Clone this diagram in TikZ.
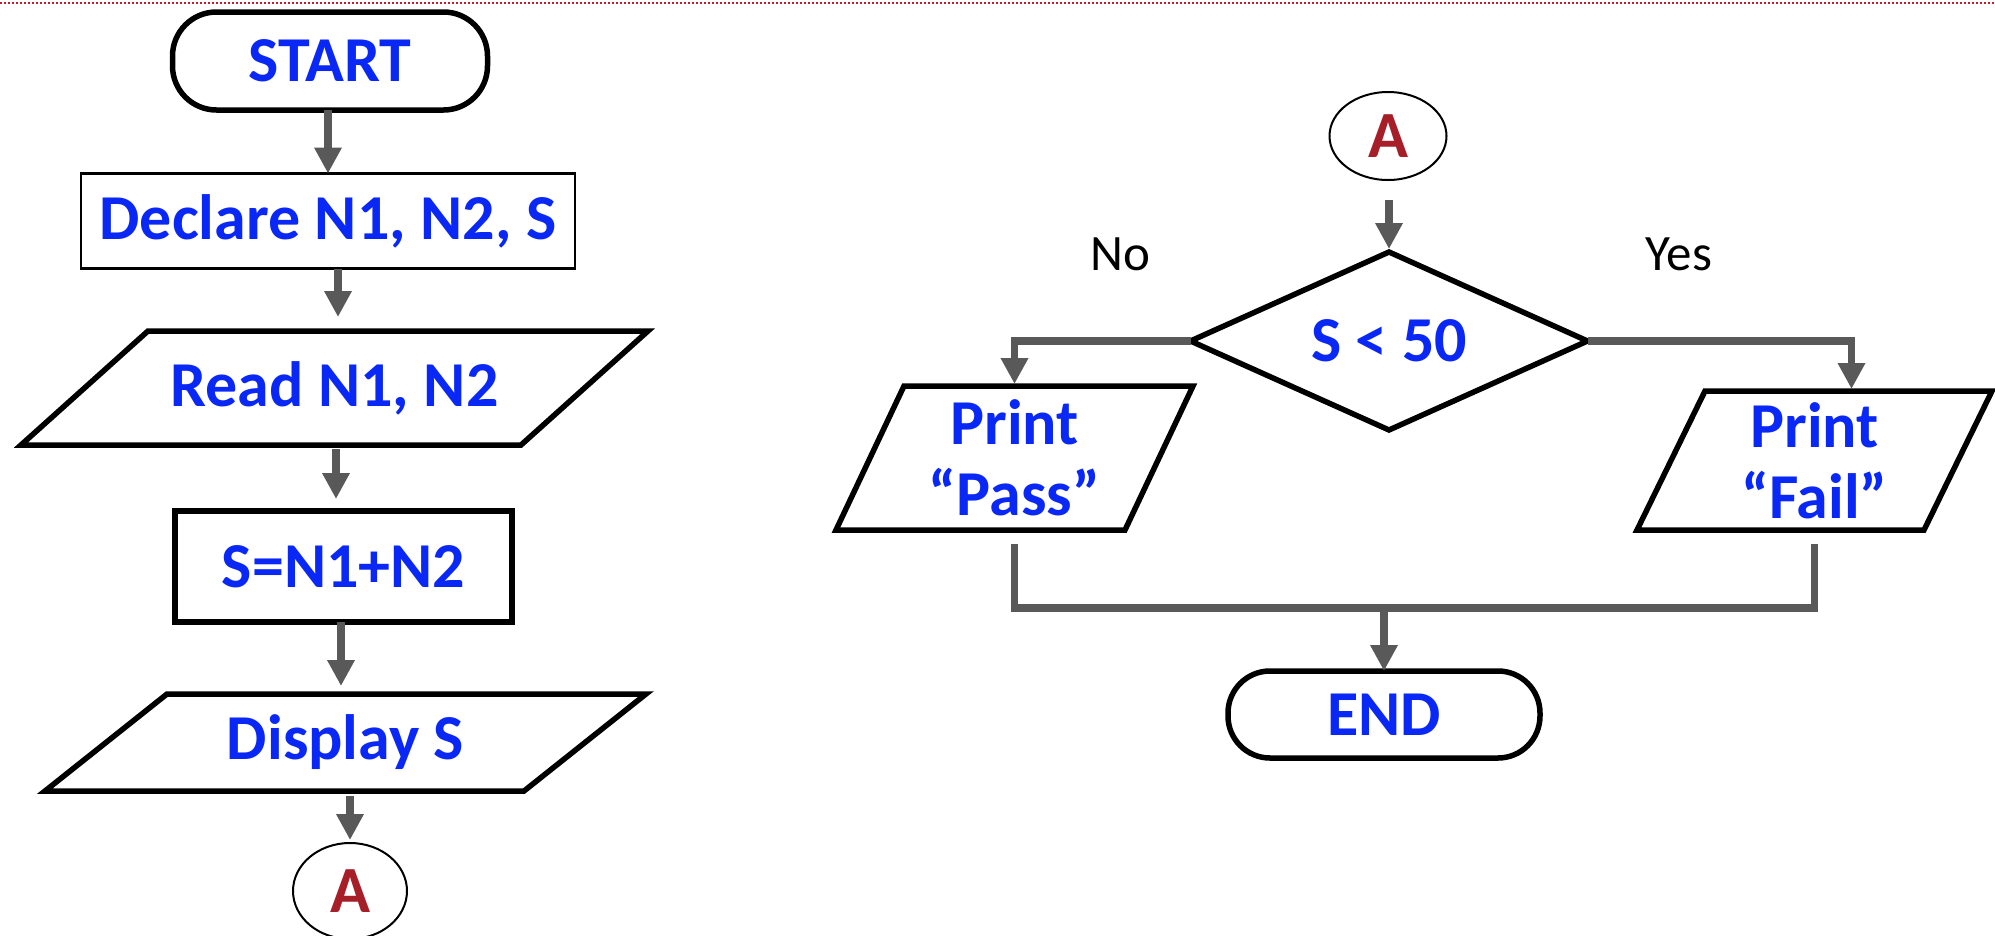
\documentclass[tikz,border=0pt]{standalone}
\usepackage{fontspec}
\setmainfont{Carlito}
\usetikzlibrary{arrows.meta,shapes.geometric}
\definecolor{txtblue}{RGB}{10,40,245}
\definecolor{ared}{RGB}{165,30,40}
\definecolor{conngray}{RGB}{89,89,89}
\definecolor{dotred}{RGB}{192,30,40}
\begin{document}
\begin{tikzpicture}[x=1pt,y=-1pt,
  every node/.style={inner sep=0pt, outer sep=0pt},
  lbl/.style={font=\fontsize{64}{71}\selectfont\bfseries, text=txtblue, align=center},
  termbox/.style={lbl, draw=black, line width=5.5pt, rounded corners=44pt},
  thinbox/.style={lbl, draw=black, line width=2.2pt},
  procbox/.style={lbl, draw=black, line width=5.5pt},
  outline/.style={draw=black, line width=5.5pt, line join=miter},
  conn/.style={draw=conngray, line width=7.5pt},
  arr/.style={conn, -{Triangle[width=26pt,length=26pt]}},
  connector/.style={draw=black, line width=2pt, ellipse, font=\fontsize{66}{70}\selectfont\bfseries, text=ared},
  branch/.style={font=\fontsize{51}{56}\selectfont}
]
\useasboundingbox (0,0) rectangle (1995,935);
\draw[dotred, line width=2pt, dash pattern=on 2pt off 2pt] (0,3) -- (1995,3);

% ---- left column
\node[termbox, minimum width=315, minimum height=98] (start) at (330,61) {START};
\node[thinbox, minimum width=494, minimum height=95] (declare) at (328,221) {Declare N1, N2, S};
\node[lbl, minimum width=627, minimum height=114] (read) at (334.5,388) {Read N1, N2};
\draw[outline] ([xshift=127pt]read.north west) -- (read.north east) -- ([xshift=-127pt]read.south east) -- (read.south west) -- cycle;
\node[procbox, minimum width=337, minimum height=111] (sum) at (343.5,566.5) {S=N1+N2};
\node[lbl, minimum width=601, minimum height=97] (display) at (345.5,742.5) {Display S};
\draw[outline] ([xshift=122pt]display.north west) -- (display.north east) -- ([xshift=-122pt]display.south east) -- (display.south west) -- cycle;
\node[connector, minimum width=114, minimum height=96] (aleft) at (350,891) {A};

\draw[arr] (declare.north |- start.south) -- (declare.north);
\draw[arr, shorten >=14pt] ([xshift=3.5pt]read.north |- declare.south) -- ([xshift=3.5pt]read.north);
\draw[arr, shorten <=4pt, shorten >=12pt] ([xshift=-7.5pt]sum.north |- read.south) -- ([xshift=-7.5pt]sum.north);
\draw[arr, shorten >=8pt] ([xshift=-4.5pt]display.north |- sum.south) -- ([xshift=-4.5pt]display.north);
\draw[arr, shorten <=5pt, shorten >=3pt] (aleft.north |- display.south) -- (aleft.north);

% ---- right part
\node[connector, minimum width=117, minimum height=88] (aright) at (1388,136) {A};
\node[lbl, minimum width=397, minimum height=178] (dec) at (1389,341) {S < 50};
\draw[outline] (dec.north) -- (dec.east) -- (dec.south) -- (dec.west) -- cycle;
\node[branch] (no) at (1120,254) {No};
\node[branch] (yes) at (1679,254) {Yes};

\node[lbl, minimum width=357, minimum height=144] (pass) at (1014.5,458) {Print\\“Pass”};
\draw[outline] ([xshift=68pt]pass.north west) -- (pass.north east) -- ([xshift=-68pt]pass.south east) -- (pass.south west) -- cycle;
\node[lbl, minimum width=355, minimum height=139] (fail) at (1814.5,460.5) {Print\\“Fail”};
\draw[outline] ([xshift=68pt]fail.north west) -- (fail.north east) -- ([xshift=-68pt]fail.south east) -- (fail.south west) -- cycle;

\node[termbox, minimum width=312, minimum height=87, rounded corners=42pt] (end) at (1384,714.5) {END};

\draw[arr, shorten <=20pt, shorten >=3pt] (dec.north |- aright.south) -- (dec.north);
\draw[arr, shorten >=2pt] (dec.west) -| (pass.north);
\draw[arr, shorten >=2pt] (dec.east) -| ([xshift=37pt]fail.north);

\coordinate (merge) at (1384,608);
\draw[conn, shorten <=14pt, shorten >=14pt] (pass.south) -- (pass.south |- merge) -- (fail.south |- merge) -- (fail.south);
\draw[arr] (merge) -- (end.north);
\end{tikzpicture}
\end{document}
